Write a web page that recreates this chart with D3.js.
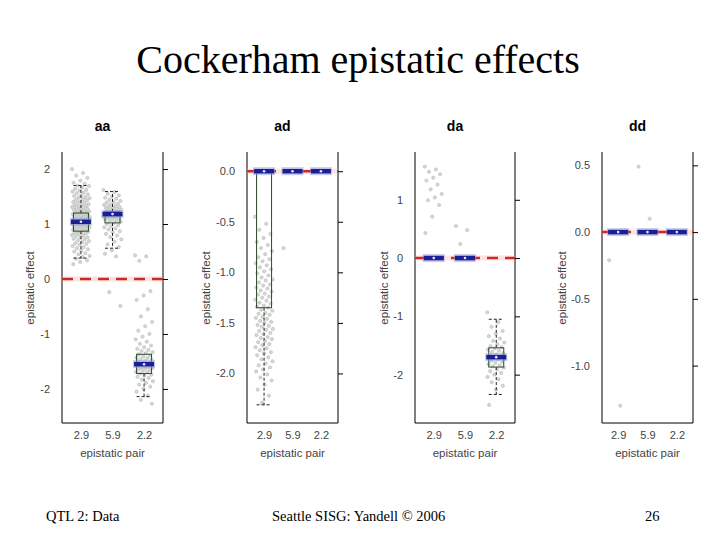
<!DOCTYPE html>
<html><head><meta charset="utf-8">
<script src="https://cdn.jsdelivr.net/npm/d3@7/dist/d3.min.js"></script>
<style>body{margin:0;background:#fff}svg{display:block}</style>
</head><body>
<script>
// ---------- DATA ----------
const pairs = ["2.9", "5.9", "2.2"];
const panelNames = ["aa", "ad", "da", "dd"];

const aaTicks = [-2, -1, 0, 1, 2];
const aaTickLabels = ["-2", "-1", "0", "1", "2"];
const adTicks = [-2, -1.5, -1, -0.5, 0];
const adTickLabels = ["-2.0", "-1.5", "-1.0", "-0.5", "0.0"];
const daTicks = [-2, -1, 0, 1];
const daTickLabels = ["-2", "-1", "0", "1"];
const ddTicks = [-1, -0.5, 0, 0.5];
const ddTickLabels = ["-1.0", "-0.5", "0.0", "0.5"];

// box stats per pair: [lower whisker, Q1, median, Q3, upper whisker]
const aaBox = [[0.38, 0.87, 1.04, 1.20, 1.70], [0.56, 1.02, 1.18, 1.22, 1.59], [-2.14, -1.72, -1.55, -1.37, -1.37]];
const adBox = [[-2.31, -1.35, 0, 0, 0], [0, 0, 0, 0, 0], [0, 0, 0, 0, 0]];
const daBox = [[0, 0, 0, 0, 0], [0, 0, 0, 0, 0], [-2.34, -1.87, -1.70, -1.54, -1.05]];
const ddBox = [[0, 0, 0, 0, 0], [0, 0, 0, 0, 0], [0, 0, 0, 0, 0]];

// sampled epistatic effects per pair
const aa29 = [2.00,1.93,1.88,1.84,1.79,1.75,1.73,1.70,1.69,1.66,1.64,1.62,1.61,1.59,1.57,1.56,1.54,1.52,1.51,1.49,1.48,1.47,1.45,1.44,1.43,1.41,1.40,1.39,1.38,1.36,1.35,1.34,1.33,1.32,1.31,1.30,1.29,1.28,1.27,1.26,1.25,1.24,1.23,1.22,1.21,1.20,1.19,1.18,1.18,1.17,1.16,1.15,1.14,1.13,1.12,1.12,1.11,1.10,1.09,1.08,1.07,1.07,1.06,1.05,1.04,1.03,1.03,1.02,1.01,1.00,0.99,0.98,0.97,0.96,0.96,0.95,0.94,0.93,0.92,0.91,0.90,0.89,0.88,0.87,0.86,0.85,0.84,0.83,0.82,0.80,0.79,0.78,0.76,0.75,0.73,0.72,0.70,0.69,0.67,0.65,0.64,0.62,0.60,0.58,0.56,0.54,0.52,0.50,0.47,0.45,0.42,0.40,0.37,0.34,0.31,0.27];
const aa59 = [1.62,1.58,1.55,1.52,1.50,1.48,1.46,1.44,1.42,1.40,1.39,1.37,1.36,1.35,1.33,1.32,1.31,1.30,1.29,1.28,1.27,1.26,1.25,1.24,1.23,1.22,1.21,1.20,1.19,1.18,1.17,1.16,1.15,1.14,1.13,1.12,1.11,1.10,1.09,1.08,1.06,1.05,1.04,1.02,1.00,0.98,0.96,0.94,0.92,0.90,0.87,0.85,0.82,0.79,0.76,0.72,0.68,0.63,0.58,0.52,0.46,0.41,-0.24,-0.49];
const aa22 = [0.43,0.41,0.33,-0.22,-0.30,-0.38,-0.55,-0.68,-0.78,-0.86,-0.94,-1.00,-1.05,-1.10,-1.14,-1.18,-1.21,-1.24,-1.27,-1.29,-1.31,-1.33,-1.35,-1.37,-1.39,-1.41,-1.43,-1.44,-1.46,-1.47,-1.49,-1.50,-1.52,-1.53,-1.54,-1.55,-1.56,-1.57,-1.58,-1.59,-1.60,-1.61,-1.62,-1.63,-1.64,-1.66,-1.67,-1.69,-1.70,-1.72,-1.74,-1.76,-1.78,-1.80,-1.83,-1.86,-1.89,-1.92,-1.96,-2.00,-2.05,-2.12,-2.20,-2.27];
const ad29 = [-0.45,-0.52,-0.58,-0.62,-0.66,-0.70,-0.73,-0.76,-0.79,-0.82,-0.85,-0.87,-0.89,-0.91,-0.93,-0.95,-0.97,-0.99,-1.01,-1.03,-1.05,-1.07,-1.08,-1.10,-1.12,-1.13,-1.15,-1.16,-1.18,-1.19,-1.21,-1.22,-1.24,-1.25,-1.27,-1.28,-1.30,-1.31,-1.33,-1.34,-1.35,-1.37,-1.38,-1.40,-1.41,-1.42,-1.44,-1.45,-1.46,-1.48,-1.49,-1.50,-1.52,-1.53,-1.54,-1.56,-1.57,-1.58,-1.60,-1.61,-1.62,-1.64,-1.65,-1.66,-1.68,-1.69,-1.71,-1.72,-1.74,-1.75,-1.77,-1.79,-1.80,-1.82,-1.84,-1.86,-1.88,-1.90,-1.92,-1.94,-1.96,-1.98,-2.01,-2.04,-2.07,-2.11,-2.16,-2.22,-2.29];
const ad59 = [-0.76];
const ad22 = [];
const da29 = [1.57,1.52,1.48,1.44,1.38,1.33,1.26,1.18,1.10,1.04,0.99,0.91,0.71,0.43];
const da59 = [0.55,0.48,0.24];
const da22 = [-0.93,-1.10,-1.18,-1.25,-1.30,-1.34,-1.38,-1.42,-1.45,-1.48,-1.51,-1.53,-1.55,-1.57,-1.59,-1.61,-1.63,-1.65,-1.67,-1.69,-1.71,-1.72,-1.74,-1.76,-1.78,-1.80,-1.82,-1.84,-1.86,-1.88,-1.91,-1.94,-1.97,-2.00,-2.04,-2.08,-2.13,-2.19,-2.26,-2.52];
const dd29 = [-0.21, -1.30];
const dd59 = [0.49, 0.10];
const dd22 = [];

// ---------- LAYOUT ----------
const W = 720, H = 540;
const plotTop = 152, plotBottom = 423;
const panels = [
  {name: "aa", x0: 62,  x1: 163, dom: [-2.62, 2.31], ticks: aaTicks, labels: aaTickLabels, box: aaBox, pts: [aa29, aa59, aa22], ylab: 30, pad: 0.6},
  {name: "ad", x0: 247, x1: 338, dom: [-2.49, 0.19], ticks: adTicks, labels: adTickLabels, box: adBox, pts: [ad29, ad59, ad22], ylab: 206, pad: 0.6},
  {name: "da", x0: 415, x1: 515, dom: [-2.83, 1.82], ticks: daTicks, labels: daTickLabels, box: daBox, pts: [da29, da59, da22], ylab: 384, pad: 0.6},
  {name: "dd", x0: 602, x1: 693, dom: [-1.43, 0.60], ticks: ddTicks, labels: ddTickLabels, box: ddBox, pts: [dd29, dd59, dd22], ylab: 562, pad: 0.55}
];

const svg = d3.select("body").append("svg").attr("width", W).attr("height", H)
  .style("font-family", "'Liberation Sans', Arial, sans-serif");

svg.append("text").attr("x", 358).attr("y", 73).attr("text-anchor", "middle")
  .style("font-family", "'Liberation Serif', 'Times New Roman', serif").style("font-size", "40px")
  .text("Cockerham epistatic effects");

const foot = svg.append("g").style("font-family", "'Liberation Serif', 'Times New Roman', serif").style("font-size", "14.5px");
foot.append("text").attr("x", 46).attr("y", 521).text("QTL 2: Data");
foot.append("text").attr("x", 272).attr("y", 521).text("Seattle SISG: Yandell \u00A9 2006");
foot.append("text").attr("x", 645).attr("y", 521).text("26");

const boxW = 15, medW = 20, jw = 18;

panels.forEach((p, pi) => {
  const g = svg.append("g");
  const x = d3.scalePoint().domain(pairs).range([p.x0, p.x1]).padding(p.pad);
  const y = d3.scaleLinear().domain(p.dom).range([plotBottom, plotTop]);

  g.append("text").attr("x", (p.x0 + p.x1) / 2 - 10).attr("y", 131).attr("text-anchor", "middle")
    .style("font-weight", "bold").style("font-size", "14px").text(p.name);

  pairs.forEach((k, ki) => {
    const vals = p.pts[ki];
    g.append("g").selectAll("circle").data(vals).enter().append("circle")
      .attr("cx", (d, i) => x(k) + (((i * 0.6180339887) % 1) - 0.5) * jw)
      .attr("cy", d => y(d))
      .attr("r", 1.6)
      .attr("fill", "#d6d9d6").attr("stroke", "#b4b8b4").attr("stroke-width", 0.6);
  });

  pairs.forEach((k, ki) => {
    const [lo, q1, med, q3, hi] = p.box[ki];
    const cx = x(k);
    if (q1 > lo) {
      g.append("line").attr("x1", cx).attr("x2", cx).attr("y1", y(q1)).attr("y2", y(lo))
        .attr("stroke", "#222").attr("stroke-dasharray", "3,2");
      g.append("line").attr("x1", cx - boxW / 2).attr("x2", cx + boxW / 2).attr("y1", y(lo)).attr("y2", y(lo))
        .attr("stroke", "#222").attr("stroke-dasharray", "3,2");
    }
    if (hi > q3) {
      g.append("line").attr("x1", cx).attr("x2", cx).attr("y1", y(q3)).attr("y2", y(hi))
        .attr("stroke", "#222").attr("stroke-dasharray", "3,2");
      g.append("line").attr("x1", cx - boxW / 2).attr("x2", cx + boxW / 2).attr("y1", y(hi)).attr("y2", y(hi))
        .attr("stroke", "#222").attr("stroke-dasharray", "3,2");
    }
    if (q3 > q1) {
      g.append("rect").attr("x", cx - boxW / 2).attr("width", boxW)
        .attr("y", y(q3)).attr("height", y(q1) - y(q3))
        .attr("fill", "none").attr("stroke", "#2c4a2c").attr("stroke-width", 1);
    }
  });

  g.append("path").attr("d", `M${p.x0},${plotTop}V${plotBottom}H${p.x1}V${plotTop}`)
    .attr("fill", "none").attr("stroke", "#000").attr("stroke-width", 1);

  g.append("line").attr("x1", p.x0).attr("x2", p.x1).attr("y1", y(0)).attr("y2", y(0))
    .attr("stroke", "#ffb0a8").attr("stroke-width", 5).attr("opacity", 0.35);
  g.append("line").attr("x1", p.x0).attr("x2", p.x1).attr("y1", y(0)).attr("y2", y(0))
    .attr("stroke", "#cc2a2a").attr("stroke-width", 2.5).attr("stroke-dasharray", "11,7");

  pairs.forEach((k, ki) => {
    const med = p.box[ki][2];
    const cx = x(k);
    g.append("line").attr("x1", cx - medW / 2 - 1).attr("x2", cx + medW / 2 + 1).attr("y1", y(med)).attr("y2", y(med))
      .attr("stroke", "#8c9ad8").attr("stroke-width", 8).attr("opacity", 0.5);
    g.append("line").attr("x1", cx - medW / 2).attr("x2", cx + medW / 2).attr("y1", y(med)).attr("y2", y(med))
      .attr("stroke", "#1a1f96").attr("stroke-width", 4.5);
    g.append("circle").attr("cx", cx).attr("cy", y(med)).attr("r", 1.3).attr("fill", "#dfe6ff");
  });

  const yAxisL = d3.axisLeft(y).tickValues(p.ticks).tickFormat((d, i) => p.labels[i]).tickSize(0).tickPadding(12);
  const gl = g.append("g").attr("transform", `translate(${p.x0},0)`).call(yAxisL);
  gl.select(".domain").remove();
  gl.selectAll("text").style("font-size", "11px").attr("fill", "#444");
  const yAxisR = d3.axisRight(y).tickValues(p.ticks).tickFormat("").tickSize(5);
  const gr = g.append("g").attr("transform", `translate(${p.x1},0)`).call(yAxisR);
  gr.select(".domain").remove();

  const xAxis = d3.axisBottom(x).tickSize(0).tickPadding(8);
  const gx = g.append("g").attr("transform", `translate(0,${plotBottom})`).call(xAxis);
  gx.select(".domain").remove();
  gx.selectAll("text").style("font-size", "11px").attr("fill", "#444");

  g.append("text").attr("x", (p.x0 + p.x1) / 2).attr("y", 457).attr("text-anchor", "middle")
    .style("font-size", "11.5px").attr("fill", "#444").text("epistatic pair");
  g.append("text").attr("transform", `translate(${p.ylab},${288}) rotate(-90)`).attr("text-anchor", "middle")
    .attr("dy", "0.35em").style("font-size", "11.5px").attr("fill", "#444").text("epistatic effect");
});
</script>
</body></html>
